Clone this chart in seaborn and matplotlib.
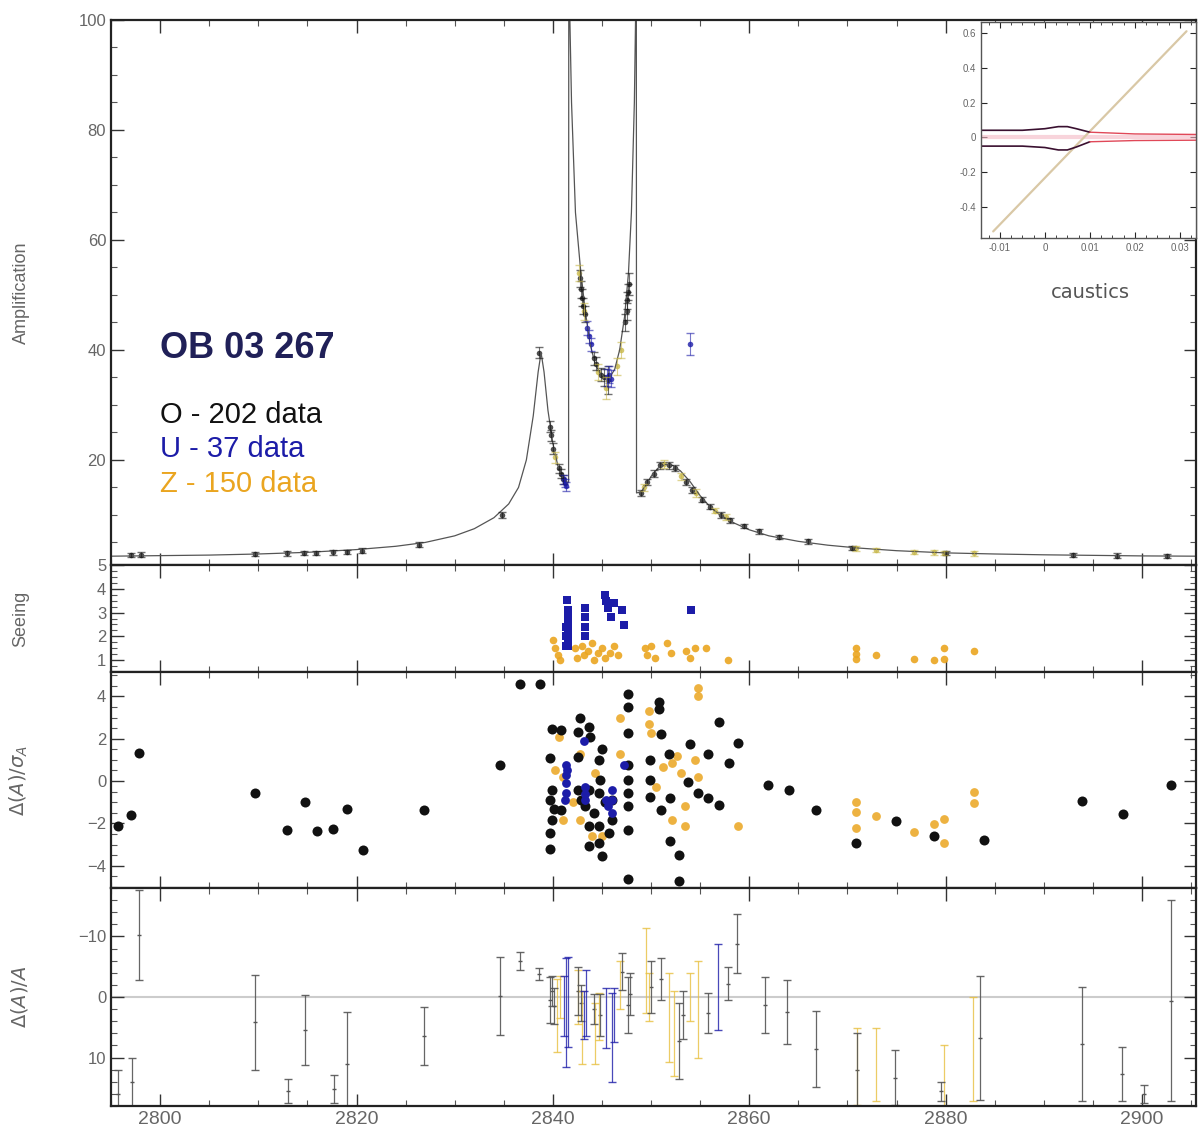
import numpy as np
import pandas as pd
import matplotlib
matplotlib.use("Agg")
import matplotlib.pyplot as plt
import seaborn as sns
from matplotlib.ticker import MultipleLocator

sns.set_style("ticks")
plt.rcParams['font.family'] = ['Liberation Sans', 'DejaVu Sans']
plt.rcParams['mathtext.fontset'] = 'dejavusans'

# ---------------- data ----------------
# model light curve
model_t = [2795.0, 2800.0, 2805.0, 2810.0, 2815.0, 2820.0, 2824.0, 2827.0, 2830.0, 2832.0, 2834.0,
           2835.5, 2836.5, 2837.3, 2838.0, 2838.5, 2838.8, 2839.1, 2839.5, 2840.0, 2840.5, 2841.0,
           2841.5, 2841.6, 2841.62, 2841.9, 2842.3, 2842.8, 2843.3, 2843.8, 2844.3, 2844.8, 2845.3,
           2845.8, 2846.3, 2846.8, 2847.3, 2847.7, 2848.0, 2848.3, 2848.5, 2848.52, 2849.0, 2849.5,
           2850.0, 2850.7, 2851.5, 2852.2, 2853.0, 2854.0, 2855.0, 2856.0, 2857.0, 2858.5, 2860.0,
           2862.0, 2865.0, 2868.0, 2871.0, 2875.0, 2880.0, 2885.0, 2890.0, 2895.0, 2900.0, 2905.5]
model_A = [2.5, 2.6, 2.7, 2.9, 3.2, 3.7, 4.3, 5.0, 6.2, 7.5, 9.5,
           12.0, 15.0, 20.0, 28.0, 36.0, 39.5, 36.0, 29.0, 23.0, 19.0, 17.0,
           15.8, 16.0, 110.0, 85.0, 65.0, 55.0, 47.0, 41.0, 37.5, 35.8, 35.0,
           35.0, 36.5, 40.0, 46.0, 54.0, 65.0, 85.0, 110.0, 14.0, 14.2, 15.5,
           17.0, 18.5, 19.2, 19.0, 18.0, 16.0, 13.5, 11.5, 10.0, 8.5, 7.3,
           6.2, 5.2, 4.5, 4.0, 3.5, 3.1, 2.9, 2.75, 2.65, 2.55, 2.5]

# photometry (amplification) per observatory
O_t = [2797.0, 2798.0, 2809.7, 2812.9, 2814.7, 2815.9, 2817.6, 2819.0, 2820.6, 2826.4, 2834.8,
       2838.6, 2839.7, 2839.8, 2840.0, 2840.6, 2840.8, 2841.0, 2842.8, 2842.9, 2843.0, 2843.1,
       2843.3, 2844.2, 2844.4, 2844.9, 2845.2, 2845.6, 2847.3, 2847.5, 2847.6, 2847.7, 2847.8,
       2849.0, 2849.6, 2850.3, 2850.9, 2851.8, 2852.4, 2853.6, 2854.2, 2855.2, 2856.0, 2857.1,
       2858.0, 2859.5, 2861.0, 2863.0, 2866.0, 2870.5, 2880.0, 2893.0, 2897.5, 2902.5]
O_A = [2.7, 2.8, 2.9, 3.0, 3.1, 3.1, 3.2, 3.3, 3.5, 4.6, 10.0,
       39.5, 26.0, 24.5, 22.0, 18.5, 17.5, 16.5, 53.0, 51.0, 49.5, 48.0,
       46.5, 38.5, 37.5, 35.5, 35.0, 34.5, 45.0, 47.0, 49.0, 50.5, 52.0,
       14.0, 16.0, 17.5, 19.0, 19.0, 18.5, 16.0, 14.5, 12.8, 11.5, 10.0,
       9.0, 8.0, 7.0, 6.0, 5.2, 4.0, 3.1, 2.7, 2.6, 2.5]
O_err = [0.4, 0.4, 0.4, 0.4, 0.4, 0.4, 0.4, 0.4, 0.4, 0.5, 0.6,
         1.0, 1.0, 1.0, 1.0, 0.8, 0.8, 0.8, 1.5, 1.5, 1.5, 1.5,
         1.5, 1.2, 1.2, 1.2, 1.5, 2.5, 1.5, 1.5, 1.5, 1.5, 2.0,
         0.6, 0.6, 0.6, 0.6, 0.6, 0.6, 0.6, 0.6, 0.5, 0.5, 0.5,
         0.5, 0.4, 0.4, 0.4, 0.4, 0.4, 0.4, 0.4, 0.4, 0.4]
U_t = [2841.1, 2841.2, 2841.3, 2843.5, 2843.7, 2843.9, 2845.5, 2845.7, 2845.9, 2854.0]
U_A = [16.5, 15.8, 15.2, 44.0, 42.5, 41.0, 35.0, 35.5, 34.8, 41.0]
U_err = [0.8, 0.8, 0.8, 1.2, 1.2, 1.2, 1.5, 1.5, 1.5, 2.0]
Z_t = [2840.2, 2842.7, 2843.2, 2844.6, 2845.4, 2846.5, 2846.9, 2849.3, 2851.3, 2853.0, 2854.6,
       2856.5, 2857.6, 2870.9, 2872.9, 2876.8, 2878.8, 2879.8, 2882.9]
Z_A = [20.5, 54.0, 47.0, 36.0, 33.0, 37.0, 40.0, 15.0, 19.2, 17.0, 14.0,
       10.8, 9.6, 3.9, 3.6, 3.3, 3.2, 3.1, 3.0]
Z_err = [1.0, 1.5, 1.5, 1.5, 2.0, 1.5, 1.5, 0.7, 0.7, 0.7, 0.7,
         0.5, 0.5, 0.4, 0.4, 0.4, 0.4, 0.4, 0.4]

# seeing
seeU_t = [2841.4, 2841.5, 2841.5, 2841.5, 2841.5, 2841.5, 2841.5, 2841.3, 2841.3, 2841.3,
          2843.3, 2843.3, 2843.3, 2843.3, 2845.3, 2845.4, 2846.2, 2847.0, 2845.9, 2847.2, 2845.6, 2854.1]
seeU_v = [3.54, 3.1, 2.8, 2.5, 2.2, 1.9, 1.6, 2.4, 2.0, 1.6,
          3.2, 2.8, 2.4, 2.0, 3.74, 3.5, 3.4, 3.1, 2.8, 2.47, 3.2, 3.1]
seeZ_t = [2840.0, 2840.2, 2840.5, 2840.7, 2842.3, 2842.5, 2843.0, 2843.2, 2843.6, 2844.0, 2844.2,
          2844.6, 2845.0, 2845.3, 2845.8, 2846.2, 2846.6, 2849.4, 2849.6, 2850.0, 2850.4, 2851.6,
          2852.0, 2853.6, 2854.0, 2854.5, 2855.6, 2857.8, 2870.9, 2870.9, 2870.9, 2872.9, 2876.8,
          2878.8, 2879.8, 2879.8, 2882.9]
seeZ_v = [1.84, 1.5, 1.2, 1.0, 1.5, 1.1, 1.6, 1.2, 1.4, 1.7, 1.0,
          1.3, 1.5, 1.1, 1.3, 1.6, 1.2, 1.5, 1.2, 1.6, 1.1, 1.7,
          1.3, 1.4, 1.1, 1.5, 1.5, 1.0, 1.5, 1.03, 1.25, 1.2, 1.05,
          1.0, 1.5, 1.05, 1.4]

# normalised residuals
resO_t = [2795.7, 2797.0, 2797.8, 2809.7, 2812.9, 2814.8, 2816.0, 2817.6, 2819.0, 2820.7, 2826.9,
          2834.6, 2836.7, 2838.7,
          2839.7, 2839.7, 2839.9, 2839.7, 2839.9, 2839.7, 2839.9, 2840.8, 2840.8, 2840.1,
          2842.6, 2842.8, 2843.7, 2843.8, 2845.0, 2842.6, 2844.7, 2842.6, 2842.9, 2843.7, 2844.8,
          2844.7, 2845.7, 2846.0, 2846.0, 2843.7, 2843.7, 2844.7, 2845.0, 2844.7, 2843.3, 2844.2, 2845.3,
          2847.7, 2847.7, 2847.7, 2847.7, 2847.7, 2847.7, 2847.7, 2847.7, 2847.7,
          2849.9, 2849.9, 2849.9, 2850.8, 2850.8, 2851.0, 2851.8, 2851.9, 2851.0, 2851.9, 2852.8, 2852.8,
          2853.8, 2854.0, 2854.8, 2855.8, 2855.8, 2856.9, 2856.9, 2857.9, 2858.9,
          2861.9, 2864.0, 2866.8, 2870.9, 2874.9, 2878.8, 2883.9, 2893.9, 2898.1, 2903.0]
resO_v = [-2.14, -1.6, 1.33, -0.55, -2.33, -0.97, -2.38, -2.27, -1.33, -3.27, -1.36,
          0.75, 4.6, 4.6,
          1.1, -0.9, 2.47, -2.45, -1.83, -3.2, -0.42, 2.4, -1.36, -1.3,
          2.3, 3.0, 2.55, 2.08, 1.53, 1.14, 0.98, -0.42, -0.9, -0.42, 0.05,
          -0.58, -2.45, -0.9, -1.83, -2.14, -3.08, -2.93, -3.55, -2.14, -1.2, -1.5, -1.0,
          4.1, 3.5, 2.27, 0.75, 0.05, -0.58, -1.2, -2.3, -4.65,
          0.98, 0.05, -0.74, 3.72, 3.4, 2.24, 1.3, -0.81, -1.36, -2.85, -3.47, -4.73,
          -0.03, 1.77, -0.58, 1.3, -0.81, 2.78, -1.13, 0.83, 1.8,
          -0.2, -0.4, -1.39, -2.93, -1.91, -2.61, -2.8, -0.92, -1.56, -0.19]
resU_t = [2841.3, 2841.3, 2841.3, 2841.3, 2841.4, 2843.2, 2843.3, 2843.3, 2843.3, 2846.0, 2846.0,
          2846.0, 2845.4, 2845.6, 2847.2, 2841.2]
resU_v = [0.75, 0.3, -0.1, -0.58, 0.5, 1.9, -0.26, -0.6, -0.9, -0.42, -0.9,
          -1.5, -0.9, -1.2, 0.75, -0.9]
resZ_t = [2840.6, 2841.0, 2841.0, 2842.8, 2842.8, 2843.7, 2844.0, 2845.0, 2846.8, 2846.8, 2849.8,
          2849.8, 2850.0, 2851.2, 2852.1, 2853.5, 2853.5, 2854.5, 2854.8, 2852.1, 2854.8, 2854.8,
          2858.9, 2870.9, 2870.9, 2870.9, 2872.9, 2876.8, 2878.8, 2879.8, 2879.8, 2882.9, 2882.9,
          2840.2, 2842.0, 2844.3, 2850.5, 2853.0, 2852.6]
resZ_v = [2.08, 0.2, -1.83, 1.3, -1.83, -2.14, -2.6, -2.6, 3.0, 1.3, 3.3,
          2.7, 2.25, 0.67, 0.83, -1.2, -2.14, 0.98, 0.2, -1.83, 4.4, 4.0,
          -2.14, -0.97, -1.44, -2.2, -1.64, -2.42, -2.02, -1.8, -2.93, -0.5, -1.02,
          0.5, -1.0, 0.4, -0.3, 0.4, 1.2]

# relative residuals with error bars
relO_t = [2795.7, 2797.1, 2797.8, 2809.7, 2813.0, 2814.8, 2817.7, 2819.0, 2826.9, 2834.6, 2836.7,
          2838.6, 2839.7, 2839.9, 2840.1, 2842.6, 2842.9, 2844.2, 2844.8, 2847.7, 2847.9, 2847.0,
          2850.0, 2851.0, 2852.8, 2853.3, 2855.8, 2857.8, 2858.8, 2861.6, 2863.8, 2866.8, 2871.0,
          2874.8, 2879.5, 2883.5, 2893.9, 2898.0, 2900.2, 2903.0]
relO_v = [16.0, 14.0, -10.2, 4.2, 15.5, 5.5, 15.2, 11.0, 6.5, -0.2, -5.9,
          -3.8, 0.5, -1.0, 1.5, -1.0, 1.0, 2.0, 3.0, 1.3, -0.5, -4.2,
          -1.7, -3.0, 7.3, 3.0, 2.6, -2.2, -8.8, 1.3, 2.5, 8.6, 12.0,
          13.3, 15.6, 6.8, 7.8, 12.7, 16.0, 0.6]
relO_e = [4.0, 4.0, 7.4, 7.9, 2.0, 5.8, 2.3, 8.5, 4.8, 6.4, 1.5,
          1.0, 3.8, 2.5, 3.0, 4.0, 3.0, 2.5, 3.5, 4.6, 3.5, 3.0,
          4.3, 3.5, 6.3, 4.0, 3.3, 2.7, 4.9, 4.6, 5.3, 6.3, 6.0,
          4.6, 1.6, 10.2, 9.4, 4.5, 1.5, 16.6]
relU_t = [2841.3, 2841.5, 2841.1, 2843.4, 2843.2, 2845.4, 2846.0, 2846.2, 2856.8]
relU_v = [2.5, 0.8, 1.5, 1.0, 3.0, 3.5, 6.7, 3.0, -1.7]
relU_e = [9.0, 7.4, 5.0, 5.5, 4.0, 5.0, 7.3, 4.5, 7.1]
relZ_t = [2840.7, 2840.4, 2842.6, 2843.0, 2844.7, 2844.3, 2846.8, 2849.5, 2849.8, 2851.8, 2852.3,
          2854.0, 2854.8, 2871.0, 2872.9, 2879.8, 2882.8]
relZ_v = [0.0, 3.0, 0.0, 5.0, 3.2, 6.0, -2.0, -4.4, 0.0, 3.4, 6.0,
          0.0, 2.0, 11.5, 11.2, 13.0, 8.6]
relZ_e = [3.5, 6.0, 4.5, 6.0, 3.9, 5.0, 4.0, 7.0, 4.0, 7.4, 7.0,
          3.9, 8.0, 6.4, 6.0, 5.0, 8.6]

# inset: source trajectory and caustic
traj_x = [-0.0115, 0.0315]
traj_y = [-0.54, 0.61]
caus_dark_x = [-0.0142, -0.005, 0.0, 0.003, 0.005, 0.007, 0.010]
caus_up_y = [0.041, 0.041, 0.05, 0.062, 0.062, 0.05, 0.03]
caus_lo_y = [-0.05, -0.05, -0.058, -0.072, -0.072, -0.055, -0.025]
caus_red_x = [0.010, 0.020, 0.0336]
caus_red_up = [0.03, 0.02, 0.017]
caus_red_lo = [-0.025, -0.018, -0.016]

# ---------------- figure ----------------
BLACK = "#111111"
BLUE = "#1c1ca8"
ORANGE = "#eaa520"
GRAY = "#666666"

fig = plt.figure(figsize=(11.98, 11.40), dpi=100)
L, W = 0.0927, 0.9056
ax1 = fig.add_axes([L, 0.5044, W, 0.4781])
ax2 = fig.add_axes([L, 0.4105, W, 0.0939])
ax3 = fig.add_axes([L, 0.2211, W, 0.1894])
ax4 = fig.add_axes([L, 0.0298, W, 0.1913])


def style(ax, last=False):
    ax.set_xlim(2795, 2905.5)
    ax.xaxis.set_major_locator(MultipleLocator(20))
    ax.xaxis.set_minor_locator(MultipleLocator(5))
    ax.tick_params(which='both', direction='in', top=True, right=True,
                   labelcolor=GRAY, labelsize=12, labelbottom=last)
    ax.tick_params(axis='x', labelsize=14)
    ax.tick_params(which='major', length=9, width=1.0, color='#333')
    ax.tick_params(which='minor', length=4, width=0.8, color='#555')
    for s in ax.spines.values():
        s.set_linewidth(1.6)
        s.set_color('#222')
    ax.set_xlabel('')
    ax.yaxis.set_label_coords(-0.075, 0.5)


# --- top panel: light curve
sns.lineplot(x=model_t, y=model_A, sort=False, estimator=None, ax=ax1,
             color='#555555', linewidth=0.9)
for t, a, e, c in [(O_t, O_A, O_err, BLACK), (U_t, U_A, U_err, BLUE), (Z_t, Z_A, Z_err, "#c8b84a")]:
    ax1.errorbar(t, a, yerr=e, fmt='none', ecolor=c, elinewidth=0.8, capsize=3, alpha=0.6)
sns.scatterplot(x=Z_t, y=Z_A, ax=ax1, color="#c8b84a", s=16, linewidth=0, alpha=0.8, legend=False)
sns.scatterplot(x=O_t, y=O_A, ax=ax1, color="#222222", s=16, linewidth=0, alpha=0.8, legend=False)
sns.scatterplot(x=U_t, y=U_A, ax=ax1, color=BLUE, s=16, linewidth=0, alpha=0.8, legend=False)
ax1.set_ylim(0.9, 100)
ax1.set_yticks([20, 40, 60, 80, 100])
ax1.yaxis.set_minor_locator(MultipleLocator(5))
ax1.set_ylabel("Amplification", color=GRAY, fontsize=13)
style(ax1)

fig.text(160 / 1198, 1 - 348 / 1140, "OB 03 267", fontsize=26, fontweight='bold',
         color="#202058", va='center', ha='left')
fig.text(160 / 1198, 1 - 415 / 1140, "O - 202 data", fontsize=21, color=BLACK, va='center')
fig.text(160 / 1198, 1 - 449 / 1140, "U - 37 data", fontsize=21, color=BLUE, va='center')
fig.text(160 / 1198, 1 - 484 / 1140, "Z - 150 data", fontsize=21, color=ORANGE, va='center')

# --- seeing panel
sns.scatterplot(x=seeZ_t, y=seeZ_v, ax=ax2, color=ORANGE, s=30, linewidth=0, alpha=0.9, legend=False)
sns.scatterplot(x=seeU_t, y=seeU_v, ax=ax2, color=BLUE, s=34, marker='s', linewidth=0, legend=False)
ax2.set_ylim(0.5, 5)
ax2.set_yticks([1, 2, 3, 4, 5])
ax2.yaxis.set_minor_locator(MultipleLocator(0.25))
ax2.set_ylabel("Seeing", color=GRAY, fontsize=13)
style(ax2)

# --- normalised residuals
sns.scatterplot(x=resZ_t, y=resZ_v, ax=ax3, color=ORANGE, s=40, linewidth=0, alpha=0.85, legend=False)
sns.scatterplot(x=resO_t, y=resO_v, ax=ax3, color=BLACK, s=52, linewidth=0, legend=False)
sns.scatterplot(x=resU_t, y=resU_v, ax=ax3, color=BLUE, s=40, linewidth=0, legend=False)
ax3.set_ylim(-5.05, 5.15)
ax3.set_yticks([-4, -2, 0, 2, 4])
ax3.yaxis.set_minor_locator(MultipleLocator(0.5))
ax3.set_ylabel(r"$\Delta(A)/\sigma_A$", color=GRAY, fontsize=14)
style(ax3)

# --- relative residuals
ax4.axhline(0, color='#cccccc', lw=1.5, zorder=0)
for t, v, e, c, a in [(relZ_t, relZ_v, relZ_e, "#e8c040", 0.8),
                      (relO_t, relO_v, relO_e, "#555555", 0.9),
                      (relU_t, relU_v, relU_e, BLUE, 0.8)]:
    ax4.errorbar(t, v, yerr=e, fmt='none', ecolor=c, elinewidth=0.9, capsize=3, alpha=a)
sns.scatterplot(x=relO_t, y=relO_v, ax=ax4, color="#555555", s=8, marker='_', linewidth=1, legend=False)
ax4.set_ylim(18, -18)
ax4.set_yticks([-10, 0, 10])
ax4.yaxis.set_minor_locator(MultipleLocator(2))
ax4.set_ylabel(r"$\Delta(A)/A$", color=GRAY, fontsize=14)
style(ax4, last=True)

# --- inset
axi = fig.add_axes([0.8189, 0.7912, 0.1794, 0.1895])
axi.plot([-0.0142, 0.0336], [0.0, 0.0], color="#f4b8c4", lw=3, alpha=0.6)
sns.lineplot(x=traj_x, y=traj_y, ax=axi, color="#d9c8a6", linewidth=1.6)
sns.lineplot(x=caus_dark_x, y=caus_up_y, ax=axi, color="#3a1030", linewidth=1.2)
sns.lineplot(x=caus_dark_x, y=caus_lo_y, ax=axi, color="#3a1030", linewidth=1.2)
sns.lineplot(x=caus_red_x, y=caus_red_up, ax=axi, color="#e04858", linewidth=1.0)
sns.lineplot(x=caus_red_x, y=caus_red_lo, ax=axi, color="#e04858", linewidth=1.0)
axi.set_xlim(-0.0142, 0.0336)
axi.set_ylim(-0.578, 0.663)
axi.set_xticks([-0.01, 0, 0.01, 0.02, 0.03])
axi.set_xticklabels(["-0.01", "0", "0.01", "0.02", "0.03"])
axi.set_yticks([-0.4, -0.2, 0, 0.2, 0.4, 0.6])
axi.set_yticklabels(["-0.4", "-0.2", "0", "0.2", "0.4", "0.6"])
axi.xaxis.set_minor_locator(MultipleLocator(0.0025))
axi.tick_params(which='both', direction='in', labelsize=7, labelcolor=GRAY, top=True, right=True)
axi.tick_params(which='major', length=4)
axi.tick_params(which='minor', length=2)
for s in axi.spines.values():
    s.set_linewidth(1.0)
    s.set_color('#555')
axi.set_xlabel('')
axi.set_ylabel('')
fig.text(1090 / 1198, 1 - 292 / 1140, "caustics", fontsize=14, color='#555555',
         ha='center', va='center', family=['DejaVu Sans'])

fig.savefig("out.png", dpi=100)
